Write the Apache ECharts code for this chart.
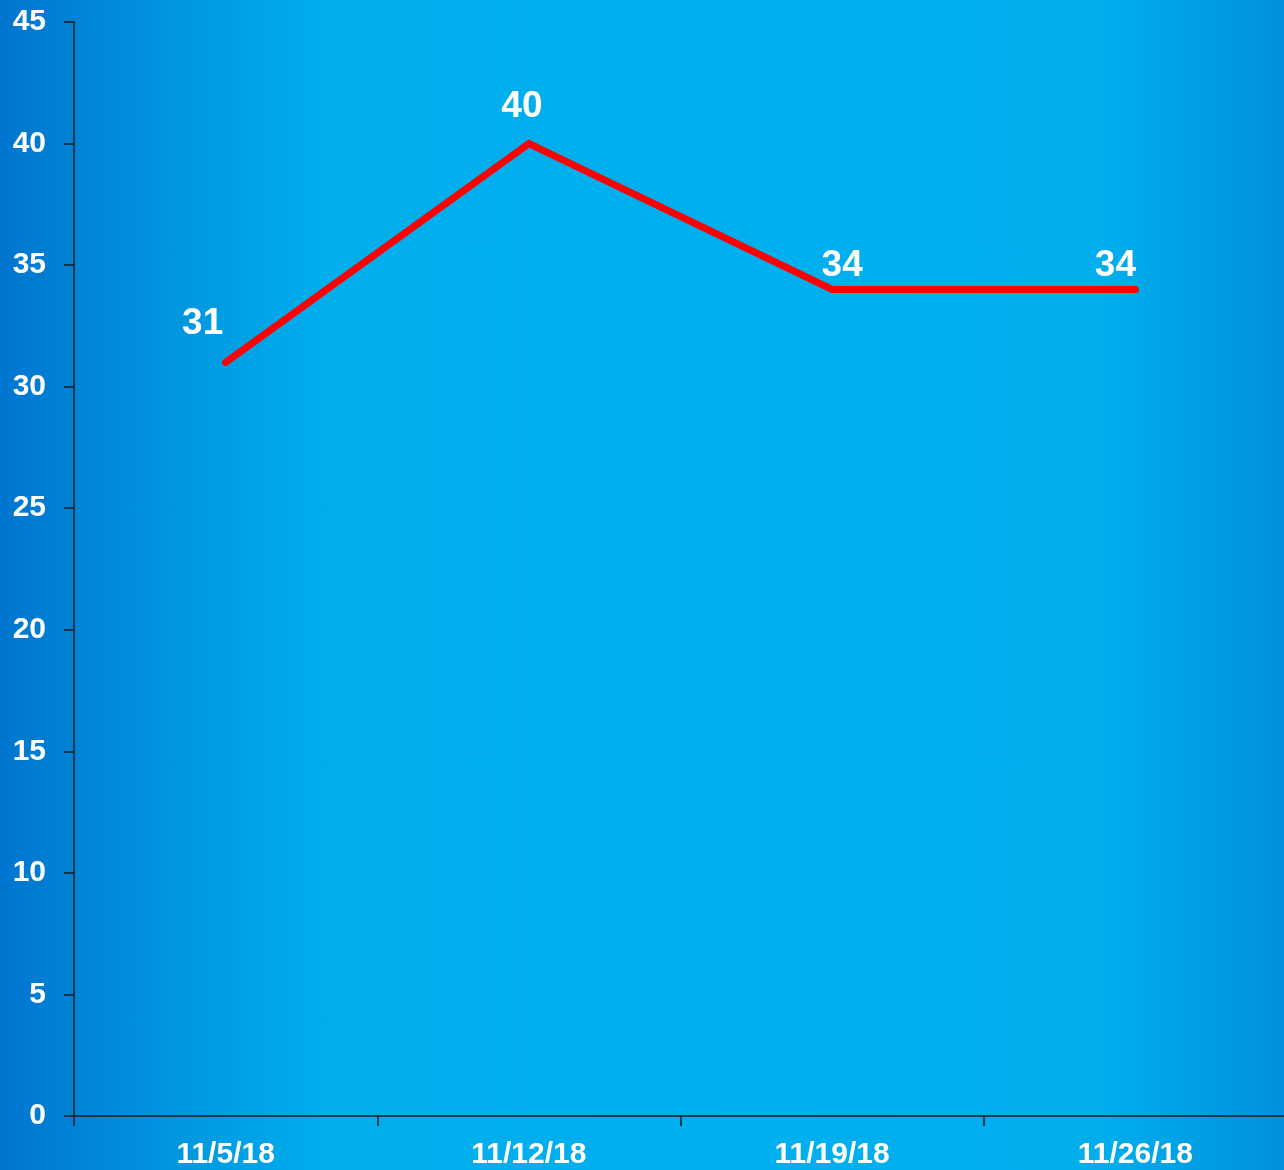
<!DOCTYPE html>
<html lang="en">
<head>
    <meta charset="UTF-8">
    <title>Weekly line</title>
    <script src="https://cdn.jsdelivr.net/npm/echarts@6/dist/echarts.min.js"></script>
    <style>
        html, body { margin: 0; padding: 0; }
        #main {
            width: 1284px; height: 1170px;
            background: linear-gradient(to right, #0075cf 0%, #0092de 12%, #00aeec 25%, #00afee 60%, #00aeec 86%, #0090dd 100%);
        }
    </style>
</head>
<body>
<div id="main"></div>
<script>
    // data
    var categories = ['11/5/18', '11/12/18', '11/19/18', '11/26/18'];
    var values = [31, 40, 34, 34];
    var yTicks = [0, 5, 10, 15, 20, 25, 30, 35, 40, 45];

    // where each value label sits relative to its point (layout only)
    var labelOffsets = [[-23, -15], [-7, -13], [10, 0], [-20, 0]];

    var myChart = echarts.init(document.getElementById('main'));

    var seriesData = values.map(function (v, i) {
        return { value: v, label: { offset: labelOffsets[i] } };
    });

    var option = {
        animation: false,
        textStyle: { fontFamily: 'Liberation Sans, Arial, sans-serif' },
        grid: { left: 74, right: -3, top: 22, bottom: 54, containLabel: false, outerBoundsMode: 'none' },
        xAxis: {
            type: 'category',
            data: categories,
            boundaryGap: true,
            axisLine: { lineStyle: { color: '#1b1b1b', width: 1.5 } },
            axisTick: { show: true, length: 10, alignWithLabel: false, lineStyle: { color: '#1b1b1b', width: 1.5 } },
            axisLabel: { color: '#ffffff', fontSize: 30, fontWeight: 'bold', margin: 24 },
            splitLine: { show: false }
        },
        yAxis: {
            type: 'value',
            min: yTicks[0],
            max: yTicks[yTicks.length - 1],
            interval: 5,
            axisLine: { show: true, lineStyle: { color: '#1b1b1b', width: 1.5 } },
            axisTick: { show: true, length: 10, lineStyle: { color: '#1b1b1b', width: 1.5 } },
            axisLabel: { color: '#ffffff', fontSize: 30, fontWeight: 'bold', margin: 28 },
            splitLine: { show: false }
        },
        series: [{
            type: 'line',
            data: seriesData,
            showSymbol: true,
            symbol: 'circle',
            symbolSize: 0,
            lineStyle: { color: '#ff0000', width: 7, cap: 'round', join: 'miter' },
            label: {
                show: true,
                position: 'top',
                distance: 5,
                color: '#ffffff',
                fontSize: 37,
                fontWeight: 'bold'
            }
        }]
    };

    myChart.setOption(option);
</script>
</body>
</html>
